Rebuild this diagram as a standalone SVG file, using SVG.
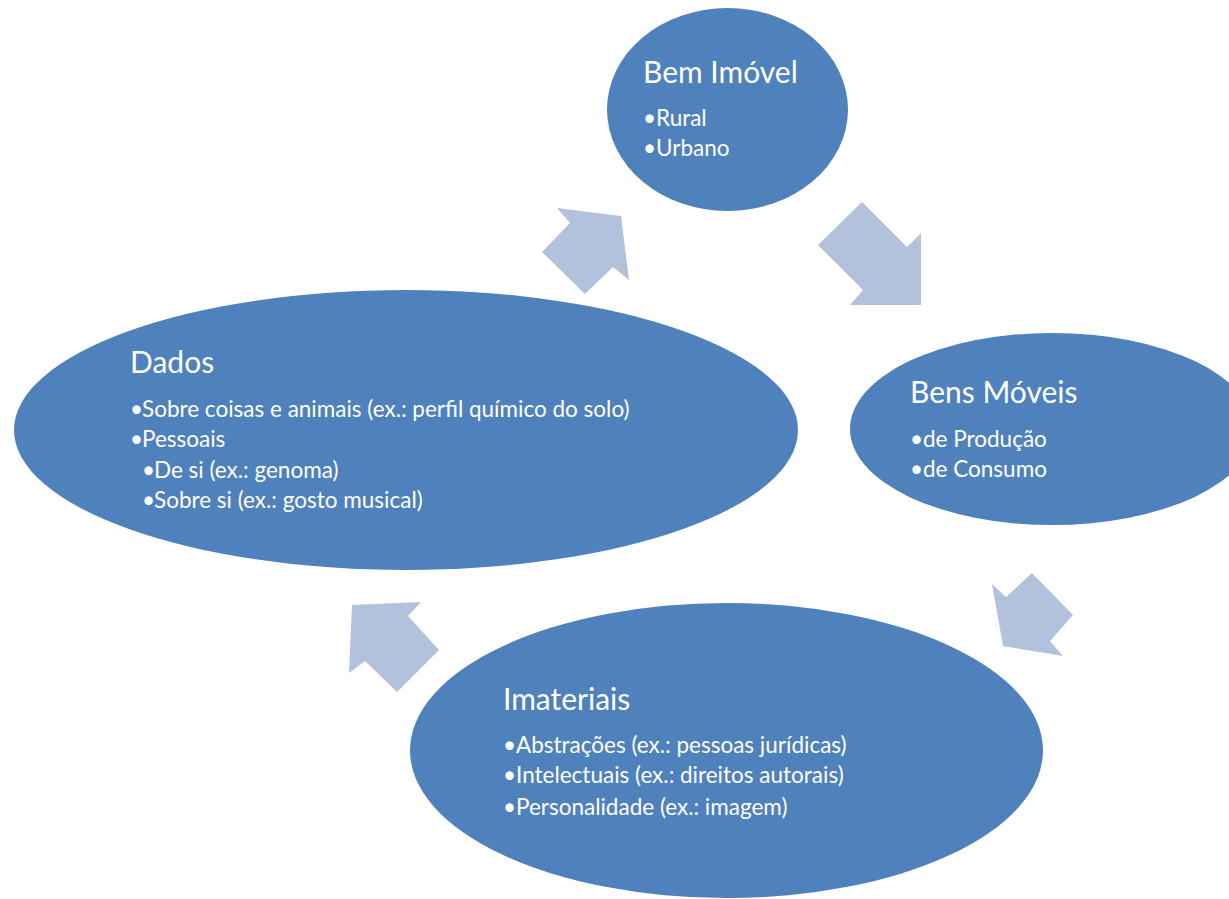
<svg xmlns="http://www.w3.org/2000/svg" width="1229" height="899" viewBox="0 0 1229 899">
<style>
.node{fill:#4F81BD;}
.arrow{fill:#B3C2DC;}
.t{fill:#FFFFFF;font-family:Lato,"Open Sans","Liberation Sans",sans-serif;}
.h{font-size:30px;}
.b{font-size:22.5px;}
</style>
<rect width="1229" height="899" fill="#FFFFFF"/>
<g id="connectors">
<polygon class="arrow" points="557,208 621,216 629,280 613,267 585,294 542,252 570,223"/>
<polygon class="arrow" points="862,202 907,247 921,233 921,305 850,305 863,290 818,245"/>
<polygon class="arrow" points="1032,573 1073,615 1050,641 1063,656 1003,646 992,584 1006,597"/>
<polygon class="arrow" points="352,605 421,602 408,616 439,650 397,692 365,661 349,673"/>
</g>
<g id="bem-imovel">
<ellipse class="node" cx="727.5" cy="109.5" rx="120.5" ry="101.5"/>
<text class="t h" x="643" y="83">Bem Imóvel</text>
<text class="t b" x="643" y="126">•</text><text class="t b" x="656" y="126">Rural</text>
<text class="t b" x="643" y="156">•</text><text class="t b" x="656" y="156">Urbano</text>
</g>
<g id="bens-moveis">
<ellipse class="node" cx="1052" cy="429" rx="202" ry="96"/>
<text class="t h" x="910" y="403">Bens Móveis</text>
<text class="t b" x="910" y="447">•</text><text class="t b" x="923" y="447">de Produção</text>
<text class="t b" x="910" y="477">•</text><text class="t b" x="923" y="477">de Consumo</text>
</g>
<g id="imateriais">
<ellipse class="node" cx="726.5" cy="750.5" rx="316.5" ry="147.5"/>
<text class="t h" x="503" y="710">Imateriais</text>
<text class="t b" x="503" y="753">•</text><text class="t b" x="516" y="753">Abstrações (ex.: pessoas jurídicas)</text>
<text class="t b" x="503" y="783">•</text><text class="t b" x="516" y="783">Intelectuais (ex.: direitos autorais)</text>
<text class="t b" x="503" y="815">•</text><text class="t b" x="516" y="815">Personalidade (ex.: imagem)</text>
</g>
<g id="dados">
<ellipse class="node" cx="406" cy="430" rx="392" ry="140"/>
<text class="t h" x="130" y="373">Dados</text>
<text class="t b" x="130" y="417">•</text><text class="t b" x="142" y="417">Sobre coisas e animais (ex.: perfil químico do solo)</text>
<text class="t b" x="130" y="447">•</text><text class="t b" x="142" y="447">Pessoais</text>
<text class="t b" x="142" y="478">•</text><text class="t b" x="154" y="478">De si (ex.: genoma)</text>
<text class="t b" x="142" y="508">•</text><text class="t b" x="154" y="508">Sobre si (ex.: gosto musical)</text>
</g>
</svg>
